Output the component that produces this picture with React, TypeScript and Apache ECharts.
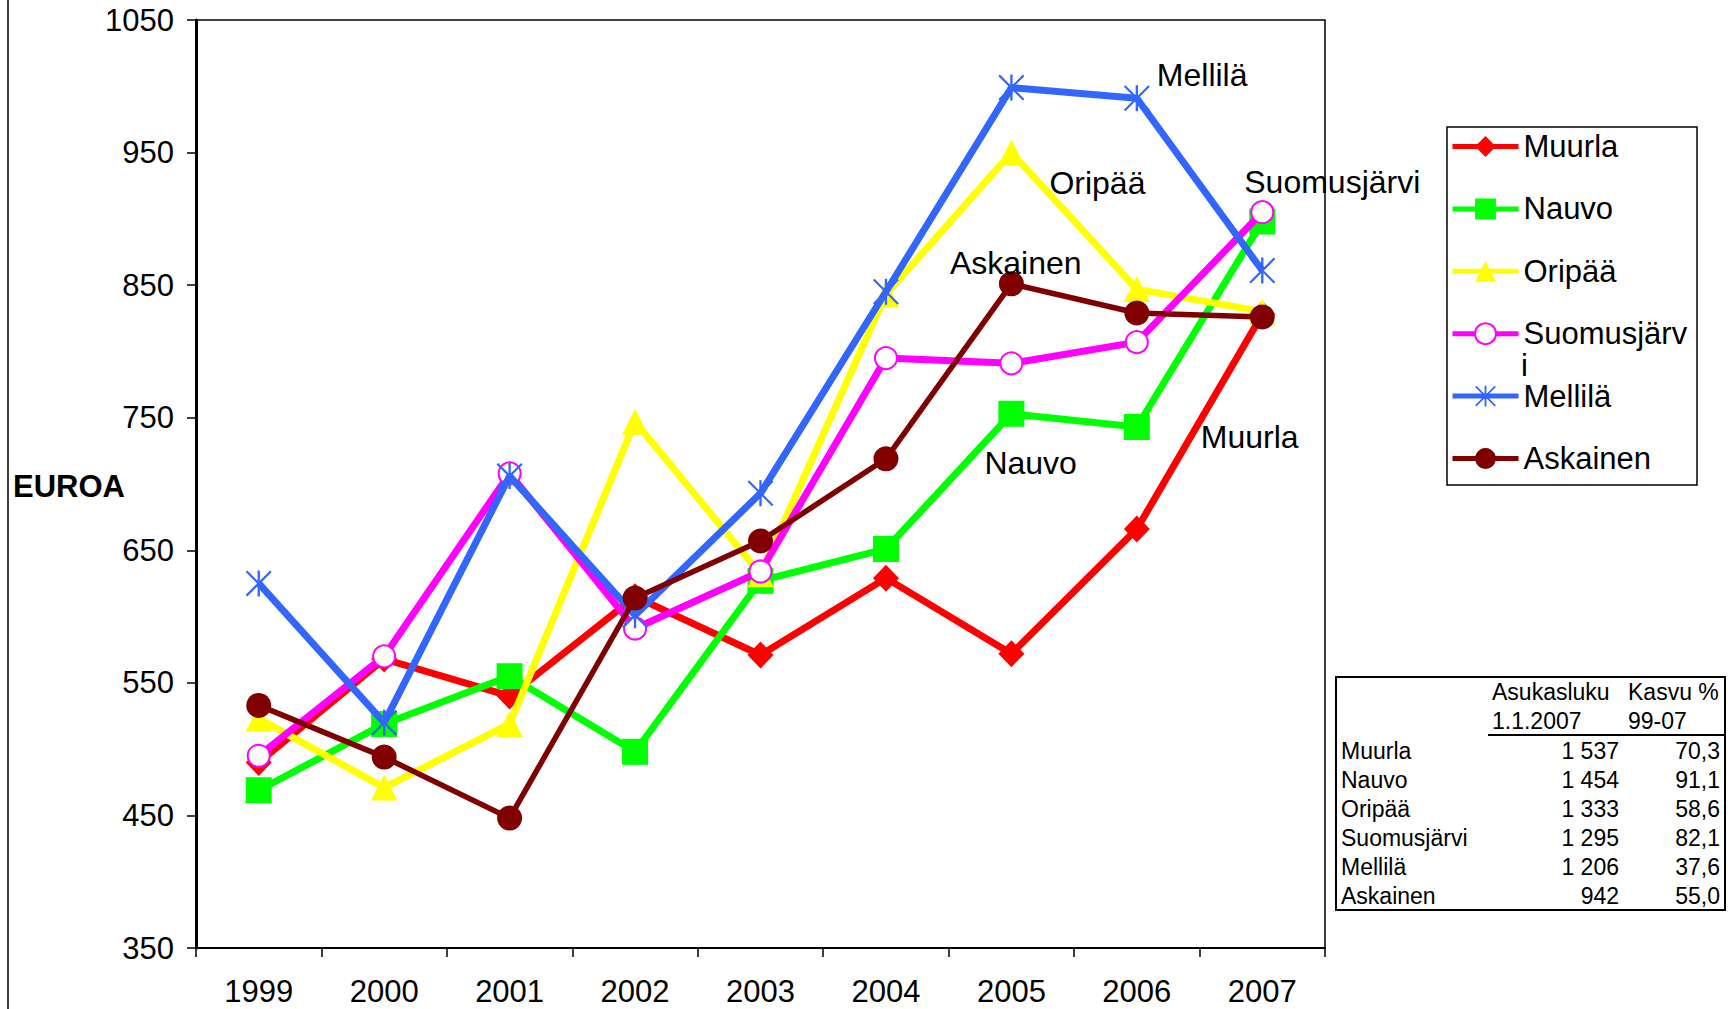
import React, { useEffect, useRef } from "react";
import * as echarts from "echarts";

const years = ["1999", "2000", "2001", "2002", "2003", "2004", "2005", "2006", "2007"];
const yTicks = { min: 350, max: 1050, interval: 100 };

const muurla = [490, 568, 540, 615, 571, 629, 572, 666, 828];
const nauvo = [469, 519, 555, 498, 627, 651, 753, 743, 898];
const oripaa = [523, 471, 519, 747, 632, 843, 950, 847, 830];
const suomusjarvi = [495, 570, 708, 591, 634, 795, 791, 807, 905];
const mellila = [625, 520, 706, 601, 693, 845, 999, 991, 861];
const askainen = [533, 494, 448, 614, 657, 719, 851, 829, 826];

const seriesNames = ["Muurla", "Nauvo", "Oripää", "Suomusjärvi", "Mellilä", "Askainen"];
const seriesValues = [muurla, nauvo, oripaa, suomusjarvi, mellila, askainen];

const tableHeader1 = ["Asukasluku", "Kasvu %"];
const tableHeader2 = ["1.1.2007", "99-07"];
const population = ["1 537", "1 454", "1 333", "1 295", "1 206", "942"];
const growth = ["70,3", "91,1", "58,6", "82,1", "37,6", "55,0"];

const FONT = "'Liberation Sans', Arial, Helvetica, sans-serif";

const ASTERISK =
  "path://M9.1,0 L10.9,0 L10.9,20 L9.1,20 Z M0,1.2 L1.2,0 L20,18.8 L18.8,20 Z M18.8,0 L20,1.2 L1.2,20 L0,18.8 Z";

const styles = [
  { color: "#FF0000", symbol: "diamond", size: [26, 27], width: 7 },
  { color: "#00FF00", symbol: "rect", size: [26, 26], width: 7 },
  { color: "#FFFF00", symbol: "triangle", size: [26, 26], width: 7 },
  { color: "#FF00FF", symbol: "emptyCircle", size: [22, 22], width: 7 },
  { color: "#3366FF", symbol: ASTERISK, size: [26, 26], width: 7 },
  { color: "#800000", symbol: "circle", size: [25, 25], width: 5.5 },
];

// in-chart annotation: which point of which series carries the name, and label offset
const annotations: Record<string, { index: number; offset: [number, number] }> = {
  Muurla: { index: 7, offset: [46, -92] },
  Nauvo: { index: 6, offset: [-45, 49] },
  Oripää: { index: 6, offset: [20, 30] },
  Suomusjärvi: { index: 8, offset: [-35, -30] },
  Mellilä: { index: 7, offset: [2, -23] },
  Askainen: { index: 6, offset: [-79, -21] },
};

export default function App() {
  const ref = useRef<HTMLDivElement>(null);

  useEffect(() => {
    if (!ref.current) return;
    const chart = echarts.init(ref.current, undefined, { renderer: "svg" });

    const series = seriesNames.map((name, si) => {
      const st = styles[si];
      const ann = annotations[name];
      const data = seriesValues[si].map((v, i) =>
        ann && ann.index === i
          ? {
              value: v,
              label: {
                show: true,
                position: "right",
                distance: 5,
                offset: ann.offset,
                formatter: name,
                fontSize: 32,
                fontFamily: FONT,
                color: "#000",
              },
            }
          : v
      );
      return {
        name,
        type: "line",
        data,
        symbol: st.symbol,
        symbolSize: st.size,
        showAllSymbol: true,
        lineStyle: { color: st.color, width: st.width },
        itemStyle: {
          color: st.color,
          borderColor: st.color,
          borderWidth: st.symbol === "emptyCircle" ? 2.5 : 0,
        },
        emphasis: { disabled: true },
        z: 2 + si,
      };
    });

    const tableLeft = 1336;
    const tableTop = 677;
    const rowY0 = 751;
    const rowStep = 29;
    const graphic: any[] = [
      // outer frame left line
      { type: "line", shape: { x1: 8, y1: 0, x2: 8, y2: 1009 }, style: { stroke: "#000", lineWidth: 1.5 } },
      // legend box
      {
        type: "rect",
        shape: { x: 1447, y: 127, width: 250, height: 358 },
        style: { fill: "#fff", stroke: "#000", lineWidth: 1.5 },
        z: 0,
      },
      {
        type: "text",
        x: 1521,
        y: 365,
        style: { text: "i", font: `31px ${FONT}`, fill: "#000", align: "left", verticalAlign: "middle" },
        z: 10,
      },
      // y-axis title
      {
        type: "text",
        x: 13,
        y: 486,
        style: { text: "EUROA", font: `bold 31px ${FONT}`, fill: "#000", align: "left", verticalAlign: "middle" },
      },
      // table box
      {
        type: "rect",
        shape: { x: tableLeft, y: tableTop, width: 389, height: 233 },
        style: { fill: "#fff", stroke: "#000", lineWidth: 2 },
      },
      {
        type: "line",
        shape: { x1: 1488, y1: 735, x2: 1725, y2: 735 },
        style: { stroke: "#000", lineWidth: 2 },
      },
    ];
    const tFont = `23px ${FONT}`;
    graphic.push(
      { type: "text", x: 1492, y: 692, style: { text: tableHeader1[0], font: tFont, fill: "#000", verticalAlign: "middle" } },
      { type: "text", x: 1628, y: 692, style: { text: tableHeader1[1], font: tFont, fill: "#000", verticalAlign: "middle" } },
      { type: "text", x: 1492, y: 721, style: { text: tableHeader2[0], font: tFont, fill: "#000", verticalAlign: "middle" } },
      { type: "text", x: 1628, y: 721, style: { text: tableHeader2[1], font: tFont, fill: "#000", verticalAlign: "middle" } }
    );
    seriesNames.forEach((name, i) => {
      const y = rowY0 + i * rowStep;
      graphic.push(
        { type: "text", x: 1341, y, style: { text: name, font: tFont, fill: "#000", verticalAlign: "middle", align: "left" } },
        { type: "text", x: 1619, y, style: { text: population[i], font: tFont, fill: "#000", verticalAlign: "middle", align: "right" } },
        { type: "text", x: 1720, y, style: { text: growth[i], font: tFont, fill: "#000", verticalAlign: "middle", align: "right" } }
      );
    });

    chart.setOption({
      animation: false,
      backgroundColor: "#fff",
      textStyle: { fontFamily: FONT },
      grid: {
        left: 196,
        top: 20,
        width: 1129,
        height: 928,
        show: true,
        borderColor: "#000",
        borderWidth: 1.5,
        backgroundColor: "transparent",
      },
      legend: {
        orient: "vertical",
        left: 1450,
        top: 131,
        itemWidth: 66,
        itemHeight: 26,
        itemGap: 31.4,
        padding: 0,
        selectedMode: false,
        lineStyle: { width: 5 },
        formatter: (n: string) => (n === "Suomusjärvi" ? "Suomusjärv" : n),
        textStyle: { fontSize: 31, lineHeight: 30, color: "#000", fontFamily: FONT },
        data: seriesNames,
        z: 5,
      },
      xAxis: {
        type: "category",
        data: years,
        boundaryGap: true,
        axisLine: { lineStyle: { color: "#000", width: 2 } },
        axisTick: { show: true, length: 9, lineStyle: { color: "#000", width: 1.5 } },
        axisLabel: { fontSize: 31, color: "#000", margin: 28, fontFamily: FONT },
        splitLine: { show: false },
      },
      yAxis: {
        type: "value",
        min: yTicks.min,
        max: yTicks.max,
        interval: yTicks.interval,
        axisLine: { show: true, lineStyle: { color: "#000", width: 3 } },
        axisTick: { show: true, length: 9, lineStyle: { color: "#000", width: 1.5 } },
        axisLabel: {
          fontSize: 31,
          color: "#000",
          margin: 22,
          fontFamily: FONT,
          formatter: (v: number) => String(v),
        },
        splitLine: { show: false },
      },
      graphic,
      series,
    });

    return () => chart.dispose();
  }, []);

  return (
    <div
      ref={ref}
      style={{ position: "fixed", left: 0, top: 0, width: 1728, height: 1009, background: "#fff" }}
    />
  );
}
